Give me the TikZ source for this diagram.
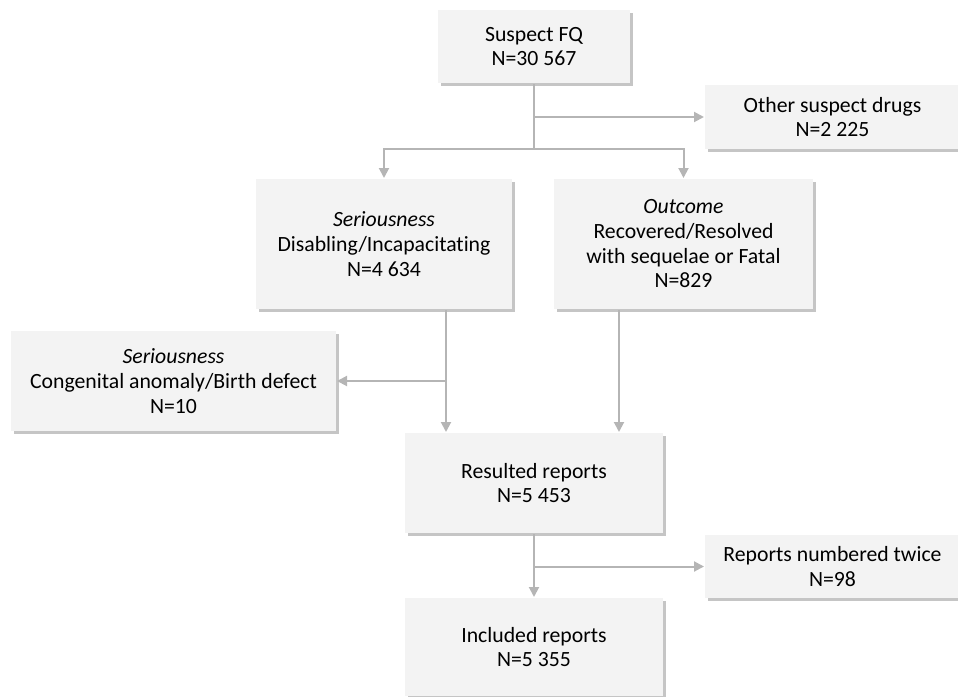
\documentclass[tikz,border=0pt]{standalone}
\usepackage{fontspec}
\setmainfont{Carlito}[Ligatures=NoCommon]
\usetikzlibrary{arrows.meta, positioning, shadows}
\definecolor{linegray}{HTML}{B5B5B5}
\definecolor{boxgray}{HTML}{F3F3F3}

\begin{document}
\begin{tikzpicture}[
                x = 0.75pt, y = -0.75pt, % pixel grid
                > = {Triangle[width=7.5pt, length=7.5pt]}, % arrow head style
                line width = 1.5pt, % line style
                font = \fontsize{16.3pt}{18.5pt}\selectfont
                ]
                \tikzstyle{box}=[
                    fill = boxgray,
                    align = center,
                    inner sep = 0pt,
                    drop shadow = {shadow xshift=2.25pt, shadow yshift=-2.25pt,
                                   fill=black!45, opacity=0.5},
                ]
                \tikzstyle{line}=[draw = linegray]
                \tikzstyle{arrow}=[draw = linegray, ->]

                \useasboundingbox (0,0) rectangle (958,697);

                \node[box, minimum width=144pt, minimum height=54.75pt] (fq) at (534,46.5)
                {Suspect FQ\\N=30 567};
                \node[box, minimum width=191.25pt, minimum height=48pt] (other)
                [below right=0pt and 54.75pt of fq.south east]
                {Other suspect drugs\\N=2 225};
                \node[box, minimum width=192pt, minimum height=97.5pt] (ser)
                [below left=70.5pt and 15.75pt of fq.south]
                {\textit{Seriousness}\\Disabling/Incapacitating\\N=4 634};
                \node[box, minimum width=194.25pt, minimum height=97.5pt] (out)
                [below right=70.5pt and 14.25pt of fq.south]
                {\textit{Outcome}\\Recovered/Resolved\\with sequelae or Fatal\\N=829};
                \node[box, minimum width=243.75pt, minimum height=75pt] (cong)
                [below left=15pt and 35.25pt of ser.south]
                {\textit{Seriousness}\\Congenital anomaly/Birth defect\\N=10};
                \node[box, minimum width=193.5pt, minimum height=75pt] (res)
                [below=261pt of fq]
                {Resulted reports\\N=5 453};
                \node[box, minimum width=191.25pt, minimum height=47.25pt] (twice)
                [below right=0pt and 30pt of res.south east]
                {Reports numbered twice\\N=98};
                \node[box, minimum width=193.5pt, minimum height=73.5pt] (inc)
                [below=47.25pt of res]
                {Included reports\\N=5 355};

                % split points
                \coordinate[below=48.75pt of fq.south] (fork1);
                \coordinate[right=31.5pt of res.north west] (resin1);
                \coordinate[left=33.75pt of res.north east] (resin2);

                \draw[line] (fq.south) -- (fork1);
                \draw[arrow] (fq.south |- other.west) -- (other.west);
                \draw[arrow] (fork1) -| (ser.north);
                \draw[arrow] (fork1) -| (out.north);

                \draw[arrow] (ser.south -| resin1) -- (resin1);
                \draw[arrow] (resin1 |- cong.east) -- (cong.east);
                \draw[arrow] (out.south -| resin2) -- (resin2);

                \draw[arrow] (res) -- (inc);
                \draw[arrow] (res.south |- twice.west) -- (twice.west);
\end{tikzpicture}
\end{document}
